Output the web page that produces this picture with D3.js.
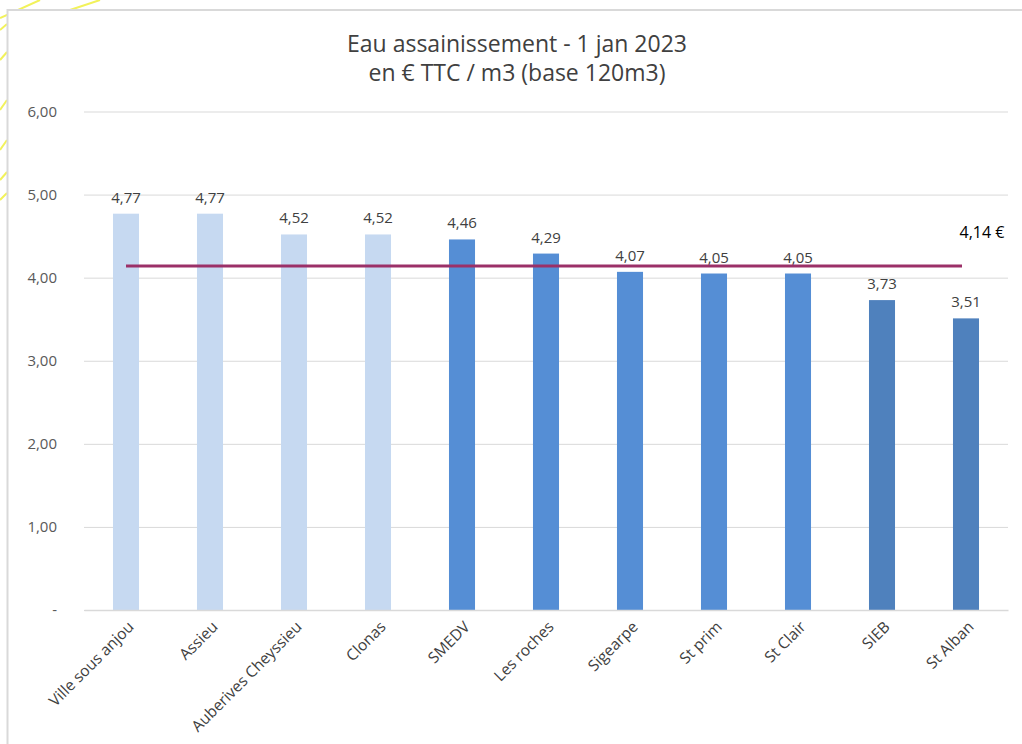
<!DOCTYPE html>
<html>
<head>
<meta charset="utf-8">
<script src="https://cdn.jsdelivr.net/npm/d3@7"></script>
<style>
  body { margin: 0; background: #fff; }
  svg text { font-family: "Open Sans", "Noto Sans", sans-serif; }
</style>
</head>
<body>
<svg id="chart" width="1022" height="744"></svg>
<script>
// chart data
var communes = ["Ville sous anjou", "Assieu", "Auberives Cheyssieu", "Clonas", "SMEDV",
  "Les roches", "Sigearpe", "St prim", "St Clair", "SIEB", "St Alban"];
var prix = [4.77, 4.77, 4.52, 4.52, 4.46, 4.29, 4.07, 4.05, 4.05, 3.73, 3.51];
var groupes = ["clair", "clair", "clair", "clair", "moyen", "moyen", "moyen", "moyen", "moyen", "fonce", "fonce"];
var moyenne = 4.14;
var yTicks = [0, 1, 2, 3, 4, 5, 6];
var titre = ["Eau assainissement  - 1 jan 2023", "en \u20ac TTC / m3 (base 120m3)"];

var couleurs = { clair: "#C6D9F1", moyen: "#558ED5", fonce: "#4F81BD" };
var fmt = function (v) { return v.toFixed(2).replace(".", ","); };

var svg = d3.select("#chart");

// yellow strokes from the screenshot background, top-left corner
var deco = svg.append("g").attr("stroke", "#F2F25A").attr("stroke-width", 2).attr("fill", "none");
[[0, 18, 40, 0], [70, 10, 100, 0], [0, 60, 7, 52], [0, 110, 7, 100], [0, 150, 7, 140],
 [0, 180, 7, 172], [0, 200, 7, 193], [0, 30, 7, 24]].forEach(function (s) {
  deco.append("line").attr("x1", s[0]).attr("y1", s[1]).attr("x2", s[2]).attr("y2", s[3]);
});

// chart frame
svg.append("rect").attr("x", 7.5).attr("y", 10).attr("width", 1030).attr("height", 760)
  .attr("fill", "#fff").attr("stroke", "#D9D9D9").attr("stroke-width", 2);

var x = d3.scaleBand().domain(communes).range([84, 1008]).paddingInner(0.69).paddingOuter(0.345);
var y = d3.scaleLinear().domain([0, 6]).range([610, 111.5]);

// title
svg.append("g").selectAll("text").data(titre).enter().append("text")
  .attr("x", 517).attr("y", function (d, i) { return 52 + i * 29; })
  .attr("text-anchor", "middle").attr("font-size", 23).attr("fill", "#404040")
  .text(function (d) { return d; });

// gridlines + y labels
var yAxis = svg.append("g").attr("transform", "translate(84,0)")
  .call(d3.axisLeft(y).tickValues(yTicks).tickSize(-924)
    .tickFormat(function (d) { return d === 0 ? "-" : fmt(d); }));
yAxis.select(".domain").remove();
yAxis.selectAll(".tick line").attr("stroke", "#D9D9D9").attr("stroke-width", 1);
yAxis.selectAll(".tick text").attr("x", -27).attr("font-size", 15).attr("fill", "#595959");

// bars
svg.append("g").selectAll("rect").data(prix).enter().append("rect")
  .attr("x", function (d, i) { return x(communes[i]); })
  .attr("y", function (d) { return y(d); })
  .attr("width", x.bandwidth())
  .attr("height", function (d) { return y(0) - y(d); })
  .attr("fill", function (d, i) { return couleurs[groupes[i]]; });

// value labels
svg.append("g").selectAll("text").data(prix).enter().append("text")
  .attr("x", function (d, i) { return x(communes[i]) + x.bandwidth() / 2; })
  .attr("y", function (d) { return y(d) - 11; })
  .attr("text-anchor", "middle").attr("font-size", 15).attr("fill", "#404040")
  .text(function (d) { return fmt(d); });

// x axis
var xAxis = svg.append("g").attr("transform", "translate(0," + y(0) + ")")
  .call(d3.axisBottom(x).tickSize(0));
xAxis.select(".domain").attr("stroke", "#D9D9D9").attr("stroke-width", 1.5);
xAxis.selectAll(".tick text")
  .attr("font-size", 15.5).attr("fill", "#404040")
  .attr("text-anchor", "end")
  .attr("dy", "0.35em")
  .attr("transform", "translate(5,14) rotate(-45)")
  .attr("x", 0).attr("y", 0);

// average line
var xFirst = x(communes[0]) + x.bandwidth() / 2;
var xLast = x(communes[communes.length - 1]) + x.bandwidth() / 2 - 4;
svg.append("line").attr("x1", xFirst).attr("x2", xLast)
  .attr("y1", y(moyenne)).attr("y2", y(moyenne))
  .attr("stroke", "#9B3068").attr("stroke-width", 3);
svg.append("text").attr("x", 982).attr("y", y(moyenne) - 28)
  .attr("text-anchor", "middle").attr("font-size", 16).attr("fill", "#000")
  .text(fmt(moyenne) + " \u20ac");
</script>
</body>
</html>
